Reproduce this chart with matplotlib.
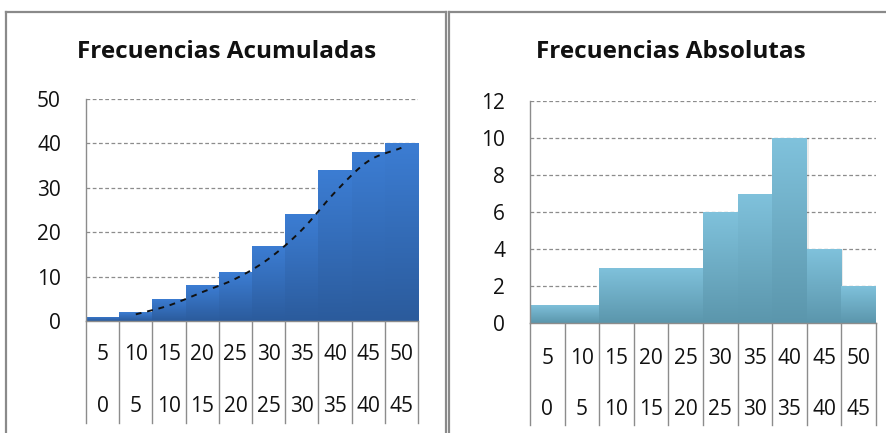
import numpy as np
import matplotlib
matplotlib.use("Agg")
import matplotlib.pyplot as plt
from matplotlib.colors import LinearSegmentedColormap
from matplotlib.lines import Line2D
import matplotlib.transforms as mtransforms

plt.rcParams['font.family'] = ['Open Sans', 'DejaVu Sans']

# class intervals (upper / lower bounds)
upper = ["5", "10", "15", "20", "25", "30", "35", "40", "45", "50"]
lower = ["0", "5", "10", "15", "20", "25", "30", "35", "40", "45"]

absolute = [1, 1, 3, 3, 3, 6, 7, 10, 4, 2]
cumulative = [1, 2, 5, 8, 11, 17, 24, 34, 38, 40]

W, H = 886, 433
fig = plt.figure(figsize=(W / 100, H / 100), dpi=100)
fig.patch.set_facecolor("white")

LABEL_SIZE = 15
TITLE_SIZE = 17.5


def px_axes(x0, x1, ytop, ybot):
    return fig.add_axes([x0 / W, 1 - ybot / H, (x1 - x0) / W, (ybot - ytop) / H])


def catmull_rom(xs, ys, n=20):
    xs = np.asarray(xs, float)
    ys = np.asarray(ys, float)
    px = np.concatenate([[2 * xs[0] - xs[1]], xs, [2 * xs[-1] - xs[-2]]])
    py = np.concatenate([[2 * ys[0] - ys[1]], ys, [2 * ys[-1] - ys[-2]]])
    outx, outy = [], []
    t = np.linspace(0, 1, n)
    for i in range(1, len(px) - 2):
        for arr, out in ((px, outx), (py, outy)):
            p0, p1, p2, p3 = arr[i - 1], arr[i], arr[i + 1], arr[i + 2]
            out.extend(0.5 * ((2 * p1) + (-p0 + p2) * t
                              + (2 * p0 - 5 * p1 + 4 * p2 - p3) * t ** 2
                              + (-p0 + 3 * p1 - 3 * p2 + p3) * t ** 3))
    return np.array(outx), np.array(outy)


def draw_panel(ax, values, ymax, ystep, c_top, c_bot, row1, row2, sep_bottom):
    n = len(values)
    x = np.arange(n)
    bars = ax.bar(x, values, width=1.0, color=c_top, edgecolor="none", zorder=2)
    cmap = LinearSegmentedColormap.from_list("g", [c_bot, c_top])
    grad = np.linspace(1, 0, 256).reshape(-1, 1)
    for rect in bars:
        bx, bw, bh = rect.get_x(), rect.get_width(), rect.get_height()
        # soft shadow to the right of each bar
        ax.add_patch(plt.Rectangle((bx + bw, 0), 0.06, bh, color="#000000",
                                   alpha=0.08, lw=0, zorder=1.5))
        im = ax.imshow(grad, extent=[bx, bx + bw, 0, bh], aspect="auto",
                       cmap=cmap, vmin=0, vmax=1, zorder=2.5, interpolation="bilinear")
        im.set_clip_path(rect)
    ax.set_xlim(-0.5, n - 0.5)
    ax.set_ylim(0, ymax)
    ax.set_yticks(np.arange(0, ymax + 0.01, ystep))
    ax.set_xticks([])
    ax.tick_params(axis="y", length=0, pad=18, labelsize=LABEL_SIZE, colors="#111111")
    for s in ("top", "right"):
        ax.spines[s].set_visible(False)
    for s in ("left", "bottom"):
        ax.spines[s].set_color("#8c8c8c")
        ax.spines[s].set_linewidth(1.0)
    ax.spines["bottom"].set_zorder(3)
    for v in np.arange(ystep, ymax + 0.01, ystep):
        ax.axhline(v, color="#8c8c8c", lw=0.9, ls=(0, (3, 2)), zorder=1)
    trans = mtransforms.blended_transform_factory(ax.transData, ax.transAxes)
    for i in range(n):
        ax.text(i, row1, upper[i], transform=trans, ha="center", va="center",
                fontsize=LABEL_SIZE, color="#111111")
        ax.text(i, row2, lower[i], transform=trans, ha="center", va="center",
                fontsize=LABEL_SIZE, color="#111111")
    for b in np.arange(-0.5, n, 1.0):
        ax.add_line(Line2D([b, b], [0, sep_bottom], transform=trans,
                           color="#8c8c8c", lw=1.0, clip_on=False))


# left: cumulative frequencies
axL = px_axes(86, 418, 99, 321)
draw_panel(axL, cumulative, 50, 10, "#3c7dd3", "#2b5b9c", -0.153, -0.387, -0.46)
# two-period moving average trendline
ma = np.convolve(cumulative, [0.5, 0.5], mode="valid")
mx = np.arange(1, len(cumulative))
sx, sy = catmull_rom(mx, ma)
axL.plot(sx, sy, color="#111111", lw=1.4, ls=(0, (3, 3)), zorder=4)

# right: absolute frequencies
axR = px_axes(530, 876, 101, 323)
draw_panel(axR, absolute, 12, 2, "#80c2dc", "#5b96ac", -0.158, -0.39, -0.46)

fig.text(227 / W, 1 - 52 / H, "Frecuencias Acumuladas", ha="center", va="center",
         fontsize=TITLE_SIZE, fontweight="bold", color="#111111")
fig.text(671 / W, 1 - 52 / H, "Frecuencias Absolutas", ha="center", va="center",
         fontsize=TITLE_SIZE, fontweight="bold", color="#111111")

# chart frames
frame = dict(color="#8a8a8a", lw=1.6, transform=fig.transFigure)
for (x0, x1) in ((6, 446), (449, 890)):
    fig.add_artist(Line2D([x0 / W, x0 / W], [1 - 12 / H, 0], **frame))
    fig.add_artist(Line2D([x0 / W, x1 / W], [1 - 12 / H, 1 - 12 / H], **frame))
    if x1 < W:
        fig.add_artist(Line2D([x1 / W, x1 / W], [1 - 12 / H, 0], **frame))

fig.savefig("out.png", dpi=100, facecolor="white")
